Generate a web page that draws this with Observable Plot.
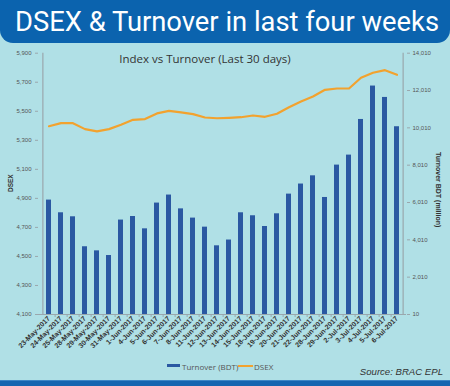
<!DOCTYPE html>
<html>
<head>
<meta charset="utf-8">
<script src="https://cdn.jsdelivr.net/npm/d3@7"></script>
<script src="https://cdn.jsdelivr.net/npm/@observablehq/plot@0.6"></script>
<style>
  html, body { margin: 0; padding: 0; background: #b0e0e6; }
  #wrap { position: relative; width: 450px; height: 386px; overflow: hidden; background: #b0e0e6; }
  #chart { position: absolute; left: 0; top: 0; }
  #banner { position: absolute; left: 0; top: 0; width: 450px; height: 43px; background: #0b63ae; border-radius: 0 0 13px 13px; }
  #banner svg { position: absolute; left: 0; top: 0; }
  .abs { position: absolute; white-space: nowrap; }
  #subtitle { left: 0; width: 410px; text-align: center; top: 51px; font: 11.5px "Open Sans", sans-serif; color: #333; }
  .axt { font: bold 6.5px "Liberation Sans", Arial, sans-serif; color: #333; transform-origin: 0 0; }
  .leg { font: 8px "Open Sans", sans-serif; color: #555; top: 361px; }
  .sw { position: absolute; }
  #source { right: 7px; top: 366px; font: italic 9.6px "Liberation Sans", Arial, sans-serif; color: #333; }
  #strip { position: absolute; left: 0; top: 380px; width: 450px; height: 6px; background: #1565b0; border-top: 1px solid #3d86c6; }
</style>
</head>
<body>
<div id="wrap">
  <div id="chart"></div>
  <div id="banner">
    <svg width="450" height="43"><text x="15" y="31" font-family="Roboto, sans-serif" font-size="27" fill="#ffffff" textLength="424" lengthAdjust="spacingAndGlyphs">DSEX &amp; Turnover in last four weeks</text></svg>
  </div>
  <div id="subtitle" class="abs">Index vs Turnover (Last 30 days)</div>
  <div class="abs axt" style="left:7px; top:192px; transform: rotate(-90deg);">DSEX</div>
  <div class="abs axt" style="left:442px; top:152px; transform: rotate(90deg); font-size:7px;">Turnover BDT (million)</div>
  <div class="sw" style="left:167px; top:364px; width:13px; height:3px; background:#2a58a2;"></div>
  <div class="abs leg" style="left:182px;">Turnover (BDT)</div>
  <div class="sw" style="left:238px; top:365px; width:15px; height:2px; background:#f2a22e;"></div>
  <div class="abs leg" style="left:254px;">DSEX</div>
  <div id="source" class="abs">Source: BRAC EPL</div>
  <div id="strip"></div>
</div>
<script>
const dates = ["23-May-2017","24-May-2017","25-May-2017","28-May-2017","29-May-2017","30-May-2017","31-May-2017","1-Jun-2017","4-Jun-2017","5-Jun-2017","6-Jun-2017","7-Jun-2017","8-Jun-2017","11-Jun-2017","12-Jun-2017","13-Jun-2017","14-Jun-2017","15-Jun-2017","18-Jun-2017","19-Jun-2017","20-Jun-2017","21-Jun-2017","22-Jun-2017","28-Jun-2017","29-Jun-2017","2-Jul-2017","3-Jul-2017","4-Jul-2017","5-Jul-2017","6-Jul-2017"];
const turnover = [6140,5460,5245,3640,3420,3170,5070,5260,4600,5980,6410,5670,5175,4690,3690,4000,5460,5300,4725,5405,6460,7000,7440,6280,8015,8550,10460,12250,11640,10070];
const dsex = [5397,5418,5418,5377,5361,5377,5407,5441,5446,5485,5503,5492,5480,5457,5452,5455,5459,5471,5462,5483,5528,5567,5602,5648,5657,5657,5731,5765,5783,5751];
const dsexTicks = [4100,4300,4500,4700,4900,5100,5300,5500,5700,5900];
const turnoverTicks = [10,2010,4010,6010,8010,10010,12010,14010];

const dsexMin = dsexTicks[0], dsexMax = dsexTicks[dsexTicks.length - 1];
const tMin = turnoverTicks[0], tMax = turnoverTicks[turnoverTicks.length - 1];
const toT = v => tMin + (v - dsexMin) / (dsexMax - dsexMin) * (tMax - tMin);
const toD = t => dsexMin + (t - tMin) / (tMax - tMin) * (dsexMax - dsexMin);

const data = dates.map((d, i) => ({date: d, turnover: turnover[i], dsex: dsex[i]}));
const fmt = d3.format(",");
const axisColor = "#9aa7ad";

const chart = Plot.plot({
  width: 450,
  height: 386,
  marginTop: 52.7,
  marginBottom: 72,
  marginLeft: 38,
  marginRight: 44,
  style: {background: "transparent", fontFamily: "'Liberation Sans', Arial, sans-serif", overflow: "visible"},
  x: {domain: dates, padding: 0.59, axis: null},
  y: {domain: [tMin, tMax], axis: null},
  marks: [
    Plot.ruleX([dates[0]], {dx: -6.13, stroke: axisColor, strokeWidth: 1.2}),
    Plot.ruleX([dates[dates.length - 1]], {dx: 6.13, stroke: axisColor, strokeWidth: 1.2}),
    Plot.barY(data, {x: "date", y: "turnover", fill: "#2a58a2"}),
    Plot.lineY(data, {x: "date", y: d => toT(d.dsex), stroke: "#f2a22e", strokeWidth: 2.2}),
    Plot.ruleY([tMin], {stroke: axisColor, strokeWidth: 1.2}),
    Plot.axisY(dsexTicks.map(toT), {anchor: "left", tickFormat: t => fmt(Math.round(toD(t))), tickSize: 3, tickPadding: 4, fontSize: 6, fill: "#555", stroke: axisColor, label: null}),
    Plot.axisY(turnoverTicks, {anchor: "right", tickFormat: fmt, tickSize: 3, tickPadding: 3, fontSize: 6, fill: "#555", stroke: axisColor, label: null}),
    Plot.axisX(dates.slice(0, -1), {anchor: "bottom", tickFormat: () => "", tickSize: 3, dx: 6.13, stroke: axisColor, label: null}),
    Plot.axisX({anchor: "bottom", tickRotate: -45, tickSize: 0, tickPadding: 3, fontSize: 7, fontWeight: "bold", fill: "#333", label: null})
  ]
});
document.getElementById("chart").appendChild(chart);
</script>
</body>
</html>
